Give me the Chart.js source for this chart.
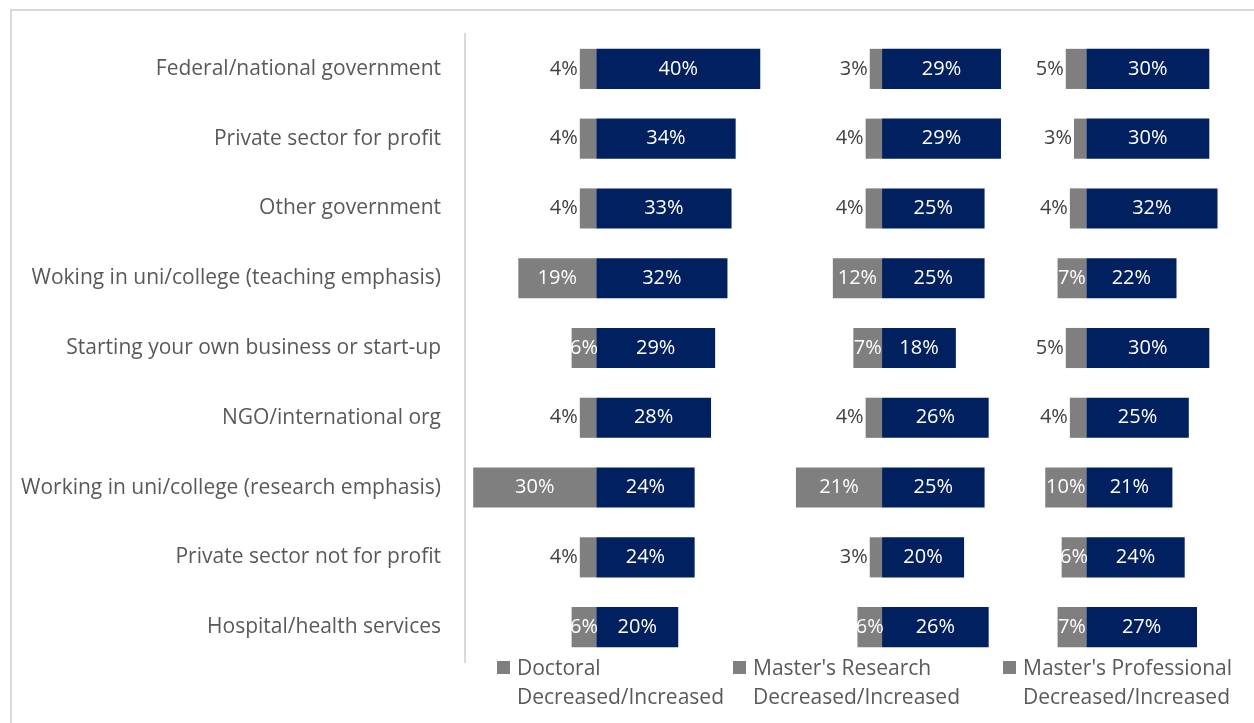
<!DOCTYPE html>
<html>
<head>
<meta charset="utf-8">
<title>Career sectors</title>
<script src="https://cdn.jsdelivr.net/npm/chart.js@4"></script>
<style>
    body {
        margin: 0;
        background: #ffffff;
        font-family: "Open Sans", Lato, sans-serif;
    }
    .frame {
        position: absolute;
        left: 10px;
        top: 9px;
        width: 1300px;
        height: 800px;
        border: 2px solid #d9d9d9;
    }
    .chart-box {
        position: absolute;
        left: 0;
        top: 0;
        width: 1254px;
        height: 723px;
    }
    .legend-item {
        position: absolute;
        top: 653px;
        color: #595959;
        font-size: 21px;
        line-height: 29px;
        padding-left: 20px;
        white-space: nowrap;
    }
    .legend-item .swatch {
        position: absolute;
        left: 0;
        top: 8px;
        width: 13px;
        height: 13px;
        background: #7f7f7f;
    }
</style>
</head>
<body>
<div class="frame"></div>
<div class="chart-box"><canvas id="sector-chart" width="1254" height="723"></canvas></div>
<div id="legend"></div>
<script>
// Sectors, top to bottom
const categories = [
    "Federal/national government",
    "Private sector for profit",
    "Other government",
    "Woking in uni/college (teaching emphasis)",
    "Starting your own business or start-up",
    "NGO/international org",
    "Working in uni/college (research emphasis)",
    "Private sector not for profit",
    "Hospital/health services"
];

const panels = ["Doctoral", "Master's Research", "Master's Professional"];

// Percent of respondents, decreased (grey) and increased (navy)
const doctoralDecreased = [4, 4, 4, 19, 6, 4, 30, 4, 6];
const doctoralIncreased = [40, 34, 33, 32, 29, 28, 24, 24, 20];
const researchDecreased = [3, 4, 4, 12, 7, 4, 21, 3, 6];
const researchIncreased = [29, 29, 25, 25, 18, 26, 25, 20, 26];
const professionalDecreased = [5, 3, 4, 7, 5, 4, 10, 6, 7];
const professionalIncreased = [30, 30, 32, 22, 30, 25, 21, 24, 27];

// Each panel gets its own value axis; these set where its zero sits
const axisMin = [-32, -101.7, -151.5];
const axisSpan = 192.4;

const legendLeft = [497, 733, 1003];

document.addEventListener("DOMContentLoaded", function() {
    const grey = "#7f7f7f";
    const navy = "#002060";
    const fontFamily = "'Open Sans', Lato, sans-serif";

    const decreased = [doctoralDecreased, researchDecreased, professionalDecreased];
    const increased = [doctoralIncreased, researchIncreased, professionalIncreased];

    // Build datasets: grey bars run left of zero, navy bars right
    const datasets = [];
    const scales = {};
    panels.forEach(function(name, i) {
        const axisId = "x" + i;
        datasets.push({
            label: name + " Decreased",
            data: decreased[i].map(v => -v),
            backgroundColor: grey,
            xAxisID: axisId
        });
        datasets.push({
            label: name + " Increased",
            data: increased[i],
            backgroundColor: navy,
            xAxisID: axisId
        });
        scales[axisId] = {
            display: false,
            min: axisMin[i],
            max: axisMin[i] + axisSpan
        };
    });

    scales.y = {
        position: "left",
        grid: { display: false, drawTicks: false },
        border: { display: true, color: "#d9d9d9", width: 2 },
        ticks: {
            color: "#595959",
            padding: 24,
            font: { family: fontFamily, size: 21 }
        },
        afterFit: function(scale) {
            // fixed axis width; the layout padding alone sets the plot's top and bottom
            scale.width = 465;
            scale.paddingTop = 0;
            scale.paddingBottom = 0;
        }
    };

    // Percent labels on the bars
    const barLabels = {
        id: "barLabels",
        afterDatasetsDraw: function(chart) {
            const ctx = chart.ctx;
            ctx.save();
            ctx.font = "20px " + fontFamily;
            ctx.textBaseline = "middle";
            chart.data.datasets.forEach(function(ds, di) {
                const meta = chart.getDatasetMeta(di);
                meta.data.forEach(function(bar, idx) {
                    const value = ds.data[idx];
                    const text = Math.abs(value) + "%";
                    const left = Math.min(bar.x, bar.base);
                    const right = Math.max(bar.x, bar.base);
                    if (value < 0 && Math.abs(value) < 6) {
                        ctx.fillStyle = "#404040";
                        ctx.textAlign = "right";
                        ctx.fillText(text, left - 2, bar.y);
                    } else {
                        ctx.fillStyle = "#ffffff";
                        ctx.textAlign = "center";
                        ctx.fillText(text, (left + right) / 2, bar.y);
                    }
                });
            });
            ctx.restore();
        }
    };

    const ctx = document.getElementById("sector-chart").getContext("2d");
    new Chart(ctx, {
        type: "bar",
        data: { labels: categories, datasets: datasets },
        options: {
            indexAxis: "y",
            responsive: false,
            animation: false,
            datasets: {
                bar: {
                    grouped: false,
                    categoryPercentage: 1,
                    barPercentage: 0.575
                }
            },
            layout: { padding: { top: 34, bottom: 61, left: 0, right: 0 } },
            scales: scales,
            plugins: {
                legend: { display: false },
                tooltip: { enabled: false }
            }
        },
        plugins: [barLabels]
    });

    // Legend below each panel
    const legend = document.getElementById("legend");
    panels.forEach(function(name, i) {
        const item = document.createElement("div");
        item.className = "legend-item";
        item.style.left = legendLeft[i] + "px";
        item.innerHTML = '<span class="swatch"></span>' + name + "<br>Decreased/Increased";
        legend.appendChild(item);
    });
});
</script>
</body>
</html>
